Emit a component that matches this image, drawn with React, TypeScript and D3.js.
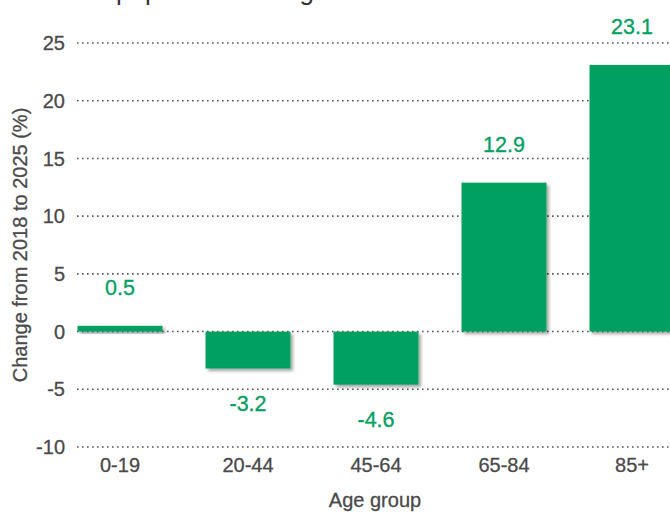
import * as d3 from 'd3'

const ageGroups = ['0-19', '20-44', '45-64', '65-84', '85+']
const changes = [0.5, -3.2, -4.6, 12.9, 23.1]
const yTicks = [-10, -5, 0, 5, 10, 15, 20, 25]

const width = 670
const height = 512
const green = '#00a060'
const grey = '#4a4a4a'
const font = 'Arial, "Liberation Sans", Helvetica, sans-serif'

const App = () => {
  const x = d3.scaleBand<string>()
    .domain(ageGroups)
    .range([56, 696])
    .paddingInner(0.336)
    .paddingOuter(0.168)

  const y = d3.scaleLinear()
    .domain([-10, 25])
    .range([447, 43])

  return (
    <svg width={width} height={height} style={{ position: 'absolute', left: 0, top: 0 }} fontFamily={font}>
      <defs>
        <filter id='shadow' x='-10%' y='-10%' width='130%' height='140%'>
          <feDropShadow dx='2.5' dy='2.5' stdDeviation='1.5' floodColor='#000' floodOpacity='0.35' />
        </filter>
      </defs>

      {/* title, mostly cropped off the top */}
      <text x={116} y={0} fontSize={26} fill='#333'>population change</text>

      {yTicks.map((t) => (
        <g key={t}>
          <line x1={77} x2={width} y1={y(t)} y2={y(t)} stroke='#555' strokeWidth={1.6} strokeDasharray='1.6,3.4' />
          <text x={65} y={y(t)} dy='0.36em' textAnchor='end' fontSize={20} fill={grey} stroke={grey} strokeWidth={0.3}>{t}</text>
        </g>
      ))}

      {ageGroups.map((g, i) => {
        const v = changes[i]
        const top = y(Math.max(0, v))
        const h = Math.abs(y(v) - y(0))
        const cx = x(g)! + x.bandwidth() / 2
        return (
          <g key={g}>
            <rect x={x(g)} y={top} width={x.bandwidth()} height={h} fill={green} filter='url(#shadow)' />
            <text
              x={cx}
              y={v >= 0 ? y(v) - 31 : y(v) + 42}
              textAnchor='middle'
              fontSize={21.5}
              fill={green}
              stroke={green}
              strokeWidth={0.3}
            >{v.toFixed(1)}</text>
            <text x={cx} y={y(-10) + 25} textAnchor='middle' fontSize={20} fill={grey} stroke={grey} strokeWidth={0.3}>{g}</text>
          </g>
        )
      })}

      <text x={375} y={507} textAnchor='middle' fontSize={20} fill={grey} stroke={grey} strokeWidth={0.3}>Age group</text>
      <text
        transform={`translate(27, ${y(7.5)}) rotate(-90)`}
        textAnchor='middle'
        fontSize={20}
        fill={grey}
        stroke={grey}
        strokeWidth={0.3}
      >Change from 2018 to 2025 (%)</text>
    </svg>
  )
}

export default App
